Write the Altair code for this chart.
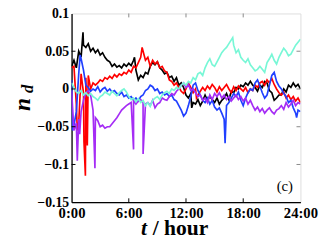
import altair as alt
import pandas as pd
import numpy as np

# time grid (hours) every 15 minutes, values in units of 1e-3
grid = np.arange(0, 24.001, 0.25)

black = [30, 38, 28, 50, 42, 58, 55, 60,
         50, 54, 48, 52, 45, 48, 42, 38,
         36, 30, 33, 29, 31, 28, 33, 30,
         34, 31, 38, 25, 12, 18, 15, 22,
         20, 30, 35, 32, 36, 28, 25, 20,
         22, 15, 17, 10, 15, 5, 8, 2,
         -8, -12, -6, -18, -20, -14, -22, -16,
         -8, -15, -10, -14, -18, -12, -20, -15,
         -12, -6, -14, -3, -5, 2, 0, 5,
         3, 8, 5, 10, 5, 2, -3, 5,
         2, 10, 8, -2, -5, -15, -12, -8,
         -8, 0, -4, 5, 2, 8, 3, 6,
         0]
black_spikes = [(1.2, 75), (6.6, 42), (12.6, -25)]

red = [28, 30, -20, -45, 20, -5, 15, 18,
       0, 8, 5, 8, 12, 10, 15, 13,
       17, 14, 19, 16, 20, 18, 22, 20,
       25, 22, 30, 28, 35, 42, 50, 38,
       42, 30, 38, 33, 36, 28, 30, 24,
       22, 12, 10, 5, 8, 2, -3, -6,
       0, 8, 2, -5, 0, -8, -3, 2,
       -2, 4, 0, 6, 2, -4, 3, -2,
       2, 6, 0, -5, 3, -2, 4, 0,
       -3, 2, -5, 0, -2, 5, 2, 8,
       10, 5, 12, 8, 14, 6, 0, -5,
       -8, -4, -12, -8, -14, -10, -16, -12,
       -18]
red_spikes = [(0.6, -55), (1.3, -70), (1.45, -115), (1.65, -75), (7.4, 55), (13.1, -12)]

blue = [12, -48, -30, 20, 40, 25, 5, 2,
        -3, 0, -2, 3, -4, 0, 2, -3,
        0, -4, -2, -6, -8, -4, -10, -8,
        -12, -10, -15, -12, -16, -10, -8, -2,
        0, 5, 3, -2, 0, -6, -4, -8,
        -6, -10, -8, -14, -16, -22, -28, -36,
        -32, -22, -10, 5, 8, -2, -8, -15,
        -18, -12, -20, -15, -24, -28, -25, -32,
        -40, -22, -18, -12, -6, -10, -4, -15,
        -22, -12, -5, 0, -2, 8, 12, 4,
        -5, -12, -8, 5, 18, 22, 10, 4,
        0, -6, -10, -18, -15, -25, -32, -28,
        -30]
blue_spikes = [(0.1, -55), (0.9, 45), (16.1, -72), (23.6, -38)]

purple = [-2, -55, -45, -40, -30, -15, -5, -2,
          -8, -28, -38, -42, -50, -48, -52, -50,
          -50, -46, -42, -38, -33, -28, -25, -22,
          -20, -18, -15, -20, -16, -14, -18, -20,
          -18, -22, -15, -25, -20, -18, -12, -14,
          -15, -10, -6, -8, -3, 0, 5, 8,
          2, 6, -2, 0, -5, -10, -8, -15,
          -12, -18, -8, -14, -6, -10, -5, -12,
          -8, -14, -10, -16, -12, -8, -14, -10,
          -16, -12, -20, -15, -22, -28, -24, -30,
          -26, -32, -28, -25, -30, -33, -28, -26,
          -22, -27, -18, -24, -20, -15, -22, -18,
          -20]
purple_spikes = [(0.6, -95), (0.85, -60), (2.45, -105), (6.5, -80), (7.5, -86)]

cyan = [8, 2, -4, -6, -2, -8, -5, -9,
        -6, -10, -12, -15, -10, -8, -4, -6,
        -8, -3, -6, -9, -5, -2, 0, -4,
        -10, -14, -12, -17, -13, -18, -15, -22,
        -18, -23, -15, -12, -10, -14, -8, -5,
        -3, -6, 0, -2, 2, 0, 5, 8,
        5, 10, 8, 15, 12, 20, 22, 18,
        28, 35, 40, 32, 30, 36, 42, 48,
        52, 55, 60, 65, 58, 48, 52, 42,
        38, 35, 40, 32, 28, 24, 26, 30,
        26, 22, 35, 40, 46, 38, 33, 42,
        48, 54, 50, 44, 46, 52, 58, 62,
        66]
cyan_spikes = [(16.9, 68)]

series = [
    ("black", black, black_spikes, "#000000"),
    ("red", red, red_spikes, "#ff0000"),
    ("blue", blue, blue_spikes, "#2040ff"),
    ("purple", purple, purple_spikes, "#a52cf5"),
    ("cyan", cyan, cyan_spikes, "#78f7d6"),
]

x_ticks = [0, 6, 12, 18, 24]
y_ticks = [-0.15, -0.1, -0.05, 0, 0.05, 0.1]

frames = []
for name, vals, spikes, col in series:
    t = list(grid) + [s[0] for s in spikes]
    v = list(vals) + [s[1] for s in spikes]
    d = pd.DataFrame({"t": t, "v": np.array(v, dtype=float) / 1000.0, "series": name})
    frames.append(d.sort_values("t"))
df = pd.concat(frames, ignore_index=True)

W, H = 234, 193
xscale = alt.Scale(domain=[0, 24], nice=False, zero=False)
yscale = alt.Scale(domain=[-0.15, 0.1], nice=False, zero=False)
font = "Liberation Serif"

xaxis = alt.Axis(values=x_ticks, labelExpr="datum.value + ':00'", title=None, grid=False,
                 ticks=False, labelPadding=4, labelFont=font, labelFontWeight="bold",
                 labelFontSize=15, labelColor="black", domainColor="black", domainWidth=1.3,
                 labelOverlap=False, labelBound=False, labelFlush=False)
yaxis = alt.Axis(values=y_ticks,
                 labelExpr="datum.value == 0 ? '0' : replace(format(datum.value, '.2~f'), '-', '\u2212')",
                 title=None, grid=False, ticks=False,
                 labelPadding=3, labelFont=font, labelFontWeight="bold", labelFontSize=14,
                 labelColor="black", domainColor="black", domainWidth=1.3,
                 labelOverlap=False, labelBound=False, labelFlush=False)

xenc = alt.X("t:Q", scale=xscale, axis=xaxis)
yenc = alt.Y("v:Q", scale=yscale, axis=yaxis)

base = alt.Chart(df)
layers = []
for name, vals, spikes, col in series:
    layers.append(
        base.transform_filter(alt.datum.series == name)
        .mark_line(color=col, strokeWidth=1.7, clip=True, strokeJoin="miter")
        .encode(x=xenc, y=yenc, order="t:Q")
    )

xt = pd.DataFrame({"t": x_ticks[1:-1]})
yt = pd.DataFrame({"v": y_ticks[1:-1]})
tick_bottom = alt.Chart(xt).mark_rule(color="black", strokeWidth=1).encode(
    x=xenc, y=alt.value(H), y2=alt.value(H - 4))
tick_top = alt.Chart(xt).mark_rule(color="#888888", strokeWidth=1).encode(
    x=xenc, y=alt.value(0), y2=alt.value(4))
tick_left = alt.Chart(yt).mark_rule(color="black", strokeWidth=1).encode(
    y=yenc, x=alt.value(0), x2=alt.value(4))
tick_right = alt.Chart(yt).mark_rule(color="#888888", strokeWidth=1).encode(
    y=yenc, x=alt.value(W), x2=alt.value(W - 4))

one = pd.DataFrame({"a": [0]})
n_txt = alt.Chart(one).mark_text(text="n", angle=270, font=font, fontStyle="italic",
                                 fontWeight="bold", fontSize=24, align="center",
                                 baseline="middle", color="black").encode(
    x=alt.value(-50), y=alt.value(93))
d_txt = alt.Chart(one).mark_text(text="d", angle=270, font=font, fontStyle="italic",
                                 fontWeight="bold", fontSize=17, align="center",
                                 baseline="middle", color="black").encode(
    x=alt.value(-44), y=alt.value(77))
t_txt = alt.Chart(one).mark_text(text="t", font=font, fontStyle="italic", fontWeight="bold",
                                 fontSize=22, align="right", baseline="alphabetic",
                                 color="black").encode(x=alt.value(77), y=alt.value(226))
hour_txt = alt.Chart(one).mark_text(text="/ hour", font=font, fontWeight="bold",
                                    fontSize=22, align="left", baseline="alphabetic",
                                    color="black").encode(x=alt.value(83), y=alt.value(226))
c_txt = alt.Chart(one).mark_text(text="(c)", font=font, fontSize=15, align="center",
                                 baseline="middle", color="black").encode(
    x=alt.value(218), y=alt.value(177))

chart = alt.layer(*layers, tick_bottom, tick_top, tick_left, tick_right,
                  n_txt, d_txt, t_txt, hour_txt, c_txt).properties(
    width=W, height=H,
    autosize=alt.AutoSizeParams(type="none"),
    padding={"left": 65, "top": 3, "right": 19, "bottom": 35},
).configure_view(stroke="#888888", strokeWidth=1.3).configure(background="white")

chart.save("out.html", embed_options={"renderer": "svg", "actions": False})
